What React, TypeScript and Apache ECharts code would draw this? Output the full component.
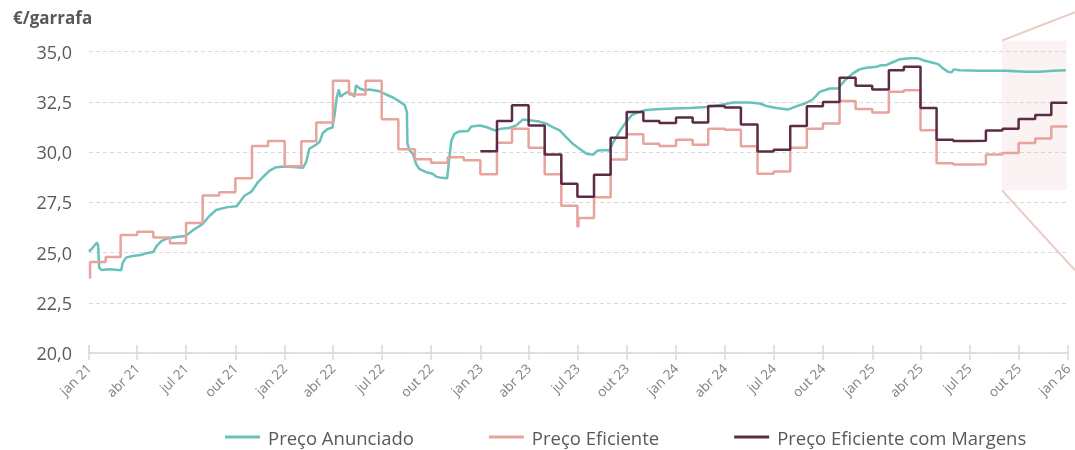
import React, { useEffect, useRef } from "react";
import * as echarts from "echarts";

const MONTHS_PT = ["jan", "fev", "mar", "abr", "mai", "jun", "jul", "ago", "set", "out", "nov", "dez"];
const Y_MIN = 20;
const Y_MAX = 35;
const Y_STEP = 2.5;
const X_MIN = "2021-01-01";
const X_MAX = "2026-01-01";

const SERIES_NAMES = ["Preço Anunciado", "Preço Eficiente", "Preço Eficiente com Margens"];

// Preço Anunciado (continuous line)
const precoAnunciado: [string, number][] = [
  ["2021-01-01", 25.05], ["2021-01-08", 25.25], ["2021-01-16", 25.5], ["2021-01-18", 25.33],
  ["2021-01-20", 24.25], ["2021-01-24", 24.13], ["2021-02-08", 24.17], ["2021-03-02", 24.12],
  ["2021-03-05", 24.5], ["2021-03-11", 24.75], ["2021-03-23", 24.83], ["2021-04-08", 24.88],
  ["2021-04-18", 24.97], ["2021-05-01", 25.03], ["2021-05-07", 25.32], ["2021-05-16", 25.57],
  ["2021-05-26", 25.7], ["2021-06-13", 25.78], ["2021-06-30", 25.83], ["2021-07-17", 26.17],
  ["2021-08-01", 26.42], ["2021-08-14", 26.83], ["2021-08-26", 27.12], ["2021-09-14", 27.25],
  ["2021-10-03", 27.3], ["2021-10-09", 27.5], ["2021-10-18", 27.83], ["2021-10-31", 28.03],
  ["2021-11-12", 28.5], ["2021-11-21", 28.75], ["2021-12-04", 29.08], ["2021-12-16", 29.25],
  ["2022-01-04", 29.28], ["2022-01-23", 29.25], ["2022-02-04", 29.22], ["2022-02-10", 29.5],
  ["2022-02-16", 30.17], ["2022-03-01", 30.38], ["2022-03-07", 30.5], ["2022-03-13", 30.95],
  ["2022-03-22", 31.15], ["2022-03-31", 31.22], ["2022-04-04", 31.83], ["2022-04-08", 32.7],
  ["2022-04-12", 33.12], ["2022-04-15", 32.75], ["2022-04-20", 32.87], ["2022-04-29", 33.0],
  ["2022-05-08", 32.87], ["2022-05-11", 32.75], ["2022-05-14", 33.33], ["2022-05-21", 33.17],
  ["2022-05-30", 33.08], ["2022-06-08", 33.12], ["2022-06-27", 33.03], ["2022-07-09", 32.87],
  ["2022-07-22", 32.72], ["2022-08-03", 32.53], ["2022-08-13", 32.33], ["2022-08-17", 32.0],
  ["2022-08-18", 30.42], ["2022-08-22", 30.08], ["2022-08-28", 29.92], ["2022-09-03", 29.42],
  ["2022-09-09", 29.17], ["2022-09-22", 29.0], ["2022-10-04", 28.92], ["2022-10-11", 28.78],
  ["2022-10-20", 28.72], ["2022-10-31", 28.7], ["2022-11-05", 29.92], ["2022-11-08", 30.58],
  ["2022-11-14", 30.92], ["2022-11-23", 31.03], ["2022-12-09", 31.05], ["2022-12-15", 31.28],
  ["2022-12-31", 31.33], ["2023-01-12", 31.25], ["2023-01-28", 31.08], ["2023-02-09", 31.17],
  ["2023-02-24", 31.2], ["2023-03-09", 31.33], ["2023-03-21", 31.62], ["2023-04-06", 31.58],
  ["2023-04-21", 31.52], ["2023-05-04", 31.42], ["2023-05-16", 31.25], ["2023-05-29", 31.08],
  ["2023-06-10", 30.75], ["2023-06-23", 30.4], ["2023-07-05", 30.17], ["2023-07-18", 29.92],
  ["2023-07-30", 29.87], ["2023-08-08", 30.08], ["2023-08-24", 30.1], ["2023-08-30", 30.08],
  ["2023-09-05", 30.45], ["2023-09-18", 31.05], ["2023-09-30", 31.5], ["2023-10-10", 31.83],
  ["2023-10-19", 31.95], ["2023-11-03", 32.08], ["2023-11-25", 32.13], ["2023-12-26", 32.17],
  ["2024-01-26", 32.2], ["2024-02-27", 32.25], ["2024-03-22", 32.33], ["2024-04-16", 32.47],
  ["2024-05-17", 32.47], ["2024-06-05", 32.42], ["2024-06-17", 32.3], ["2024-07-06", 32.2],
  ["2024-07-28", 32.12], ["2024-08-12", 32.28], ["2024-08-28", 32.42], ["2024-09-12", 32.62],
  ["2024-09-25", 33.0], ["2024-10-14", 33.17], ["2024-10-29", 33.17], ["2024-11-10", 33.55],
  ["2024-11-26", 33.92], ["2024-12-08", 34.12], ["2024-12-21", 34.2], ["2025-01-09", 34.25],
  ["2025-01-18", 34.33], ["2025-01-27", 34.33], ["2025-02-06", 34.45], ["2025-02-21", 34.62],
  ["2025-03-12", 34.67], ["2025-03-28", 34.67], ["2025-04-09", 34.55], ["2025-04-24", 34.45],
  ["2025-05-04", 34.38], ["2025-05-13", 34.17], ["2025-05-22", 34.0], ["2025-05-29", 33.97],
  ["2025-06-02", 34.12], ["2025-06-13", 34.08], ["2025-07-20", 34.05], ["2025-09-08", 34.05],
  ["2025-10-15", 34.0], ["2025-11-09", 34.0], ["2025-12-04", 34.05], ["2025-12-28", 34.08],
];

// Preço Eficiente (monthly steps)
const precoEficiente: [string, number][] = [
  ["2021-01-01", 23.75], ["2021-01-03", 24.53], ["2021-02-01", 24.78], ["2021-03-01", 25.87],
  ["2021-04-01", 26.04], ["2021-05-01", 25.75], ["2021-06-01", 25.47], ["2021-07-01", 26.47],
  ["2021-08-01", 27.84], ["2021-09-01", 28.0], ["2021-10-01", 28.7], ["2021-11-01", 30.3],
  ["2021-12-01", 30.55], ["2022-01-01", 29.3], ["2022-02-01", 30.54], ["2022-03-01", 31.47],
  ["2022-04-01", 33.55], ["2022-05-01", 32.87], ["2022-06-01", 33.55], ["2022-07-01", 31.64],
  ["2022-08-01", 30.14], ["2022-09-01", 29.64], ["2022-10-01", 29.47], ["2022-11-01", 29.75],
  ["2022-12-01", 29.6], ["2023-01-01", 28.9], ["2023-02-01", 30.47], ["2023-03-01", 31.17],
  ["2023-04-01", 30.22], ["2023-05-01", 28.9], ["2023-06-01", 27.33], ["2023-07-01", 26.3],
  ["2023-07-03", 26.72], ["2023-08-01", 27.75], ["2023-09-01", 29.63], ["2023-10-01", 30.89],
  ["2023-11-01", 30.42], ["2023-12-01", 30.3], ["2024-01-01", 30.62], ["2024-02-01", 30.37],
  ["2024-03-01", 31.17], ["2024-04-01", 31.12], ["2024-05-01", 30.29], ["2024-06-01", 28.92],
  ["2024-07-01", 29.04], ["2024-08-01", 30.22], ["2024-09-01", 31.17], ["2024-10-01", 31.43],
  ["2024-11-01", 32.55], ["2024-12-01", 32.15], ["2025-01-01", 31.97], ["2025-02-01", 33.0],
  ["2025-03-01", 33.08], ["2025-04-01", 31.09], ["2025-05-01", 29.45], ["2025-06-01", 29.38],
  ["2025-07-01", 29.4], ["2025-08-01", 29.88], ["2025-09-01", 29.96], ["2025-10-01", 30.46],
  ["2025-11-01", 30.68], ["2025-12-01", 31.28], ["2025-12-31", 31.28],
];

// Preço Eficiente com Margens (monthly steps)
const precoEficienteMargens: [string, number][] = [
  ["2023-01-01", 30.05], ["2023-02-01", 31.55], ["2023-03-01", 32.33], ["2023-04-01", 31.33],
  ["2023-05-01", 29.88], ["2023-06-01", 28.42], ["2023-07-01", 27.78], ["2023-08-01", 28.87],
  ["2023-09-01", 30.72], ["2023-10-01", 32.0], ["2023-11-01", 31.55], ["2023-12-01", 31.45],
  ["2024-01-01", 31.72], ["2024-02-01", 31.47], ["2024-03-01", 32.3], ["2024-04-01", 32.22],
  ["2024-05-01", 31.38], ["2024-06-01", 30.03], ["2024-07-01", 30.12], ["2024-08-01", 31.3],
  ["2024-09-01", 32.28], ["2024-10-01", 32.5], ["2024-11-01", 33.7], ["2024-12-01", 33.3],
  ["2025-01-01", 33.12], ["2025-02-01", 34.08], ["2025-03-01", 34.25], ["2025-04-01", 32.2],
  ["2025-05-01", 30.62], ["2025-06-01", 30.55], ["2025-07-01", 30.57], ["2025-08-01", 31.08],
  ["2025-09-01", 31.17], ["2025-10-01", 31.65], ["2025-11-01", 31.85], ["2025-12-01", 32.46],
  ["2025-12-31", 32.46],
];

// highlighted (zoomed) window
const ZOOM_FROM = "2025-08-31";
const ZOOM_TO = "2025-12-29";
const ZOOM_TOP = 35.55;
const ZOOM_BOTTOM = 28.1;

const COLORS = ["#68c2ba", "#e8a49c", "#5c2c46"];
const FONT = "'Open Sans', 'Noto Sans', sans-serif";

function fmtMonth(v: number) {
  const d = new Date(v);
  return MONTHS_PT[d.getMonth()] + " " + String(d.getFullYear()).slice(2);
}

export default function App() {
  const ref = useRef<HTMLDivElement>(null);
  useEffect(() => {
    const chart = echarts.init(ref.current!, null, { renderer: "svg" });
    const timeAxisBase = {
      type: "time",
      min: X_MIN,
      max: X_MAX,
      splitNumber: 20,
    };
    chart.setOption({
      animation: false,
      textStyle: { fontFamily: FONT },
      title: {
        text: "€/garrafa",
        left: 13,
        top: 9,
        padding: 0,
        textStyle: { fontSize: 17, fontWeight: "bold", color: "#595959", fontFamily: FONT },
      },
      grid: { left: 89, right: 7, top: 51.7, bottom: 97, containLabel: false },
      legend: {
        data: SERIES_NAMES,
        left: 225,
        top: 427,
        padding: 0,
        itemWidth: 35,
        itemHeight: 3,
        itemGap: 75,
        icon: "rect",
        textStyle: { fontSize: 18.5, lineHeight: 20, color: "#595959", fontFamily: FONT, padding: [0, 0, 0, 3] },
      },
      xAxis: [
        {
          ...timeAxisBase,
          axisLine: { show: true, lineStyle: { color: "#d9d9d9", width: 1.5 } },
          axisTick: { show: true, length: 7, lineStyle: { color: "#d9d9d9", width: 1.5 } },
          splitLine: { show: false },
          axisLabel: {
            rotate: 45,
            fontSize: 13.5,
            color: "#7f7f7f",
            margin: 13,
            fontFamily: FONT,
            formatter: (v: number) => fmtMonth(v),
            hideOverlap: false,
            showMinLabel: true,
            showMaxLabel: true,
          },
        },
        {
          ...timeAxisBase,
          position: "bottom",
          axisLine: { show: false },
          axisTick: { show: true, inside: true, length: 8, lineStyle: { color: "#d9d9d9", width: 1.5 } },
          axisLabel: { show: false },
          splitLine: { show: false },
        },
      ],
      yAxis: {
        type: "value",
        min: Y_MIN,
        max: Y_MAX,
        interval: Y_STEP,
        axisLine: { show: false },
        axisTick: { show: false },
        axisLabel: {
          fontSize: 18,
          color: "#595959",
          margin: 17,
          fontFamily: FONT,
          formatter: (v: number) => v.toFixed(1).replace(".", ","),
        },
        splitLine: { show: true, lineStyle: { color: "#d9d9d9", type: [4, 3], width: 1.2 } },
      },
      series: [
        {
          name: SERIES_NAMES[0],
          type: "line",
          data: precoAnunciado,
          showSymbol: false,
          symbol: "none",
          lineStyle: { color: COLORS[0], width: 2.5 },
          itemStyle: { color: COLORS[0] },
          z: 3,
        },
        {
          name: SERIES_NAMES[1],
          type: "line",
          step: "end",
          data: precoEficiente,
          showSymbol: false,
          symbol: "none",
          lineStyle: { color: COLORS[1], width: 2.5 },
          itemStyle: { color: COLORS[1] },
          z: 4,
        },
        {
          name: SERIES_NAMES[2],
          type: "line",
          step: "end",
          data: precoEficienteMargens,
          showSymbol: false,
          symbol: "none",
          lineStyle: { color: COLORS[2], width: 2.5 },
          itemStyle: { color: COLORS[2] },
          z: 5,
        },
      ],
    });

    const p1 = chart.convertToPixel({ xAxisIndex: 0, yAxisIndex: 0 }, [ZOOM_FROM, ZOOM_TOP]) as number[];
    const p2 = chart.convertToPixel({ xAxisIndex: 0, yAxisIndex: 0 }, [ZOOM_TO, ZOOM_BOTTOM]) as number[];
    const w = chart.getWidth();
    if (p1 && p2) {
      chart.setOption({
        graphic: [
          {
            type: "rect",
            z: 1,
            shape: { x: p1[0], y: p1[1], width: p2[0] - p1[0], height: p2[1] - p1[1] },
            style: { fill: "rgba(232, 196, 200, 0.22)" },
            silent: true,
          },
          {
            type: "line",
            z: 1,
            shape: { x1: p1[0], y1: p1[1], x2: w, y2: p1[1] - 28.5 },
            style: { stroke: "#e9cdc3", lineWidth: 2 },
            silent: true,
          },
          {
            type: "line",
            z: 1,
            shape: { x1: p1[0], y1: p2[1], x2: w, y2: p2[1] + 80 },
            style: { stroke: "#e9cdc3", lineWidth: 2 },
            silent: true,
          },
        ],
      });
    }
    return () => chart.dispose();
  }, []);
  return <div ref={ref} style={{ position: "fixed", left: 0, top: 0, width: 1075, height: 450 }} />;
}
